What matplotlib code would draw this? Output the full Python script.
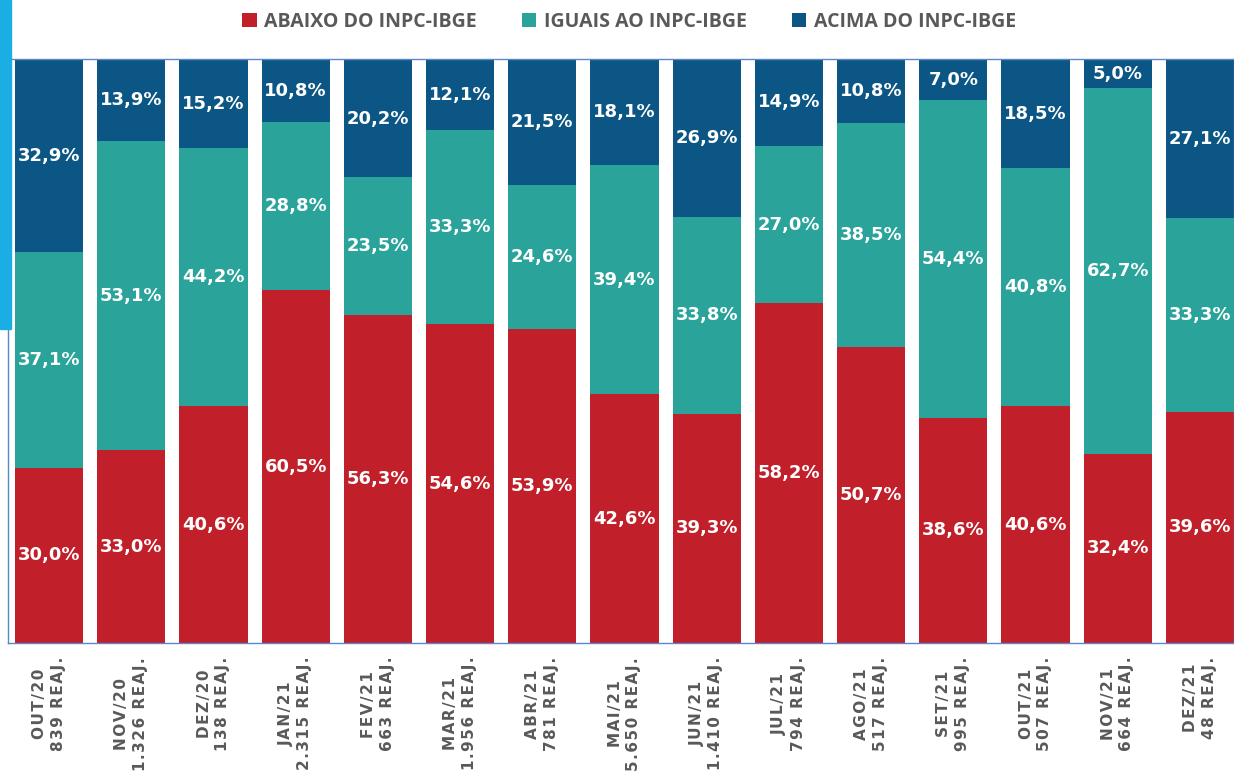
import matplotlib
matplotlib.use("Agg")
import matplotlib.pyplot as plt
import numpy as np
from matplotlib.patches import Rectangle, Patch

months = ["OUT/20", "NOV/20", "DEZ/20", "JAN/21", "FEV/21", "MAR/21", "ABR/21", "MAI/21",
          "JUN/21", "JUL/21", "AGO/21", "SET/21", "OUT/21", "NOV/21", "DEZ/21"]
reajustes = ["839", "1.326", "138", "2.315", "663", "1.956", "781", "5.650",
             "1.410", "794", "517", "995", "507", "664", "48"]

abaixo = [30.0, 33.0, 40.6, 60.5, 56.3, 54.6, 53.9, 42.6, 39.3, 58.2, 50.7, 38.6, 40.6, 32.4, 39.6]
iguais = [37.1, 53.1, 44.2, 28.8, 23.5, 33.3, 24.6, 39.4, 33.8, 27.0, 38.5, 54.4, 40.8, 62.7, 33.3]
acima = [32.9, 13.9, 15.2, 10.8, 20.2, 12.1, 21.5, 18.1, 26.9, 14.9, 10.8, 7.0, 18.5, 5.0, 27.1]

series = [
    ("ABAIXO DO INPC-IBGE", abaixo, "#C1202A"),
    ("IGUAIS AO INPC-IBGE", iguais, "#2AA39A"),
    ("ACIMA DO INPC-IBGE", acima, "#0C5685"),
]


def spaced(s):
    # imitate the wide letter tracking of the original labels
    return "\u200a".join(s)


fig = plt.figure(figsize=(12.34, 7.71), dpi=100)
ax = fig.add_axes([8 / 1234, 128 / 771, 1 - 8 / 1234, 584 / 771])

x = np.arange(len(months))
bottom = np.zeros(len(months))
handles = []
for name, vals, color in series:
    vals = np.array(vals)
    ax.bar(x, vals, width=0.83, bottom=bottom, color=color, edgecolor="none")
    for xi, b, v in zip(x, bottom, vals):
        ax.text(xi, b + v / 2, f"{v:.1f}%".replace(".", ","), ha="center", va="center",
                color="white", fontsize=13, fontweight="bold", family="DejaVu Sans")
    bottom += vals
    handles.append(Patch(facecolor=color, label=name))

ax.set_ylim(0, bottom.max())
ax.set_xlim(-0.5, len(months) - 1 + 0.415)
ax.set_yticks([])
ax.set_xticks(x)
ax.set_xticklabels([spaced(m) + "\n" + spaced(f"{r} REAJ.") for m, r in zip(months, reajustes)],
                   rotation=90, ha="center", va="top", multialignment="center",
                   fontsize=11, fontweight="bold", color="#595959", linespacing=1.3,
                   family="DejaVu Sans")
ax.tick_params(axis="x", length=0, pad=10)
for s in ax.spines.values():
    s.set_color("#5B86C8")
    s.set_linewidth(1)

fig.legend(handles=handles, loc="center", bbox_to_anchor=(629 / 1234, 1 - 22 / 771), ncol=3,
           frameon=False, handlelength=0.75, handleheight=0.75, handletextpad=0.4,
           columnspacing=2.3, prop={"family": "Open Sans", "size": 14, "weight": "bold"},
           labelcolor="#595959")

fig.patches.append(Rectangle((0, 1 - 329 / 771), 11 / 1234, 329 / 771,
                             transform=fig.transFigure, color="#1AAEE5", zorder=5))

fig.savefig("out.png", dpi=100)
